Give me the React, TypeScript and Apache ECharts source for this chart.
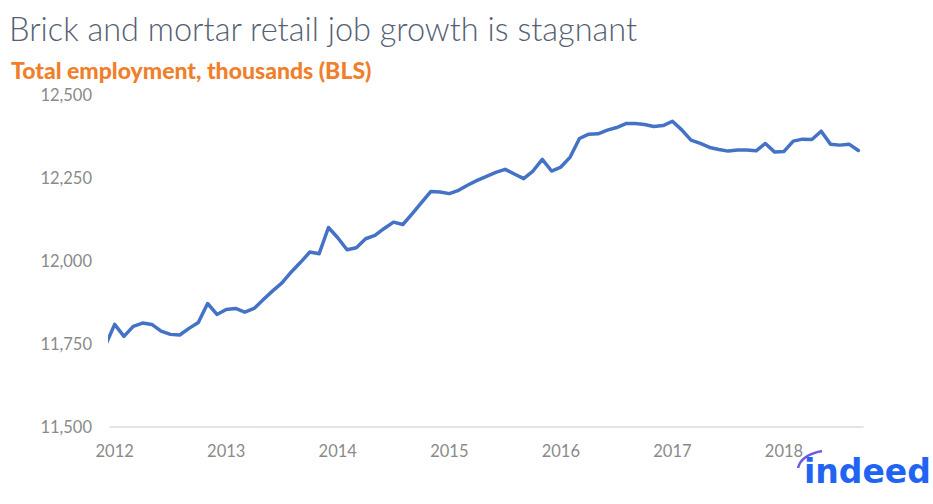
import React, { useEffect, useRef } from "react";
import * as echarts from "echarts";

// Monthly observations, Dec 2011 .. Sep 2018 (thousands)
const startYear = 2011;
const startMonth = 12;
const values: number[] = [
  11745,
  11809, 11773, 11803, 11813, 11809, 11789, 11779, 11777, 11797, 11815, 11872, 11839,
  11854, 11857, 11846, 11857, 11884, 11910, 11934, 11967, 11996, 12027, 12022, 12101,
  12070, 12034, 12040, 12067, 12077, 12098, 12117, 12110, 12142, 12176, 12209, 12208,
  12203, 12213, 12229, 12243, 12255, 12267, 12276, 12262, 12248, 12271, 12306, 12271,
  12283, 12313, 12369, 12382, 12383, 12394, 12402, 12414, 12414, 12411, 12405, 12408,
  12421, 12395, 12364, 12354, 12342, 12336, 12331, 12334, 12334, 12332, 12354, 12328,
  12330, 12361, 12367, 12366, 12391, 12352, 12349, 12352, 12333,
];
const yearTicks: number[] = [2012, 2013, 2014, 2015, 2016, 2017, 2018];
const yTicks: number[] = [11500, 11750, 12000, 12250, 12500];

const titleText = "Brick and mortar retail job growth is stagnant";
const subtitleText = "Total employment, thousands (BLS)";

// month offset from Jan 2012
const monthOffset = (i: number) => (startYear - 2012) * 12 + (startMonth - 1) + i;

export default function App() {
  const ref = useRef<HTMLDivElement>(null);
  useEffect(() => {
    if (!ref.current) return;
    const chart = echarts.init(ref.current, undefined, { renderer: "svg" });
    const data = values.map((v, i) => [monthOffset(i), v]);
    chart.setOption({
      animation: false,
      backgroundColor: "#ffffff",
      title: [
        {
          text: titleText,
          left: 4,
          top: 7,
          textStyle: {
            fontFamily: "Lato",
            fontWeight: 300,
            fontSize: 32.5,
            color: "#556073",
          },
        },
        {
          text: subtitleText,
          left: 6,
          top: 53,
          textStyle: {
            fontFamily: "Lato",
            fontWeight: 900,
            fontSize: 23,
            color: "#f07f2c",
          },
        },
      ],
      grid: { left: 110, right: 70, top: 95, bottom: 77, containLabel: false },
      xAxis: {
        type: "value",
        min: -0.5,
        max: 80.5,
        splitLine: { show: false },
        axisTick: { show: false },
        axisLine: { show: true, lineStyle: { color: "#dcdcdc", width: 1.5 } },
        axisLabel: {
          customValues: yearTicks.map((y) => (y - 2012) * 12),
          formatter: (v: number) => String(2012 + Math.round(v / 12)),
          color: "#8a8a8a",
          fontFamily: "Lato",
          fontSize: 16.5,
          margin: 15,
        },
      },
      yAxis: {
        type: "value",
        min: yTicks[0],
        max: yTicks[yTicks.length - 1],
        interval: 250,
        splitLine: { show: false },
        axisLine: { show: false },
        axisTick: { show: false },
        axisLabel: {
          color: "#8a8a8a",
          fontFamily: "Lato",
          fontSize: 16.5,
          margin: 18,
          formatter: (v: number) => v.toLocaleString("en-US"),
        },
      },
      series: [
        {
          type: "line",
          data,
          showSymbol: false,
          symbol: "none",
          clip: true,
          lineStyle: { color: "#4472c4", width: 3.5, cap: "round", join: "round" },
        },
      ],
      graphic: [
        {
          type: "bezierCurve",
          shape: { x1: 798, y1: 468, cpx1: 801, cpy1: 455, x2: 822, y2: 451 },
          style: { stroke: "#6c5ce0", lineWidth: 2.5, fill: "none" },
        },
        {
          type: "text",
          x: 804,
          y: 488,
          style: {
            text: "indeed",
            fontFamily: "DejaVu Sans",
            fontWeight: "bold",
            fontSize: 33,
            fill: "#2164f3",
            textVerticalAlign: "bottom",
            textBaseline: "bottom",
          },
        },
      ],
    });
    return () => chart.dispose();
  }, []);
  return (
    <div
      ref={ref}
      style={{ position: "fixed", left: 0, top: 0, width: 933, height: 504, background: "#fff" }}
    />
  );
}
